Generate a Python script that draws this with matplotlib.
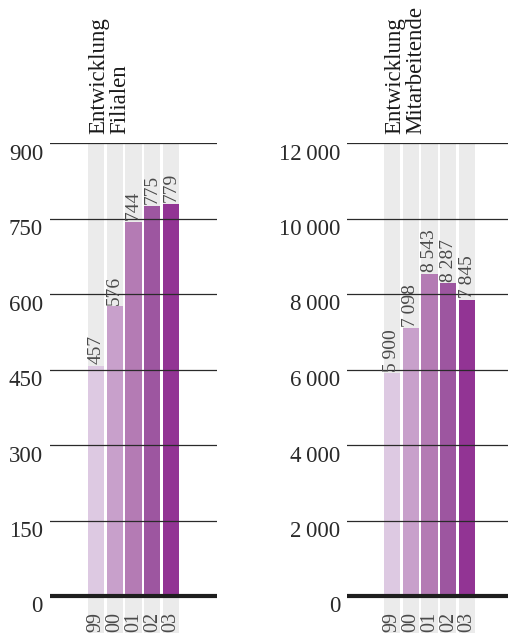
import matplotlib
matplotlib.use("Agg")
import matplotlib.pyplot as plt
from matplotlib.transforms import blended_transform_factory

plt.rcParams["font.family"] = ["Liberation Serif", "DejaVu Serif"]

years = ["99", "00", "01", "02", "03"]
filialen = [457, 576, 744, 775, 779]
mitarbeitende = [5900, 7098, 8543, 8287, 7845]
filialen_ticks = [0, 150, 300, 450, 600, 750, 900]
mitarbeitende_ticks = [0, 2000, 4000, 6000, 8000, 10000, 12000]

BAR_COLORS = ["#ddc9e2", "#c8a0cb", "#b47bb4", "#9d56a0", "#923494"]
BG = "#ebebeb"
INK = "#2a2a2a"

W, H = 508, 633
fig = plt.figure(figsize=(W / 100, H / 100), dpi=100)


def fmt(v):
    s = f"{v:,}"
    return s.replace(",", "\u2009")


def panel(x0, x1, ymax, vals, ticks, title, bar0_px):
    # axes runs from the bottom of the figure up to the top gridline (px 143)
    ax = fig.add_axes([x0 / W, 0, (x1 - x0) / W, (H - 143) / H])
    ppu = (596 - 143) / ymax
    ymin = -(H - 596) / ppu
    step = 18.75
    left = -(bar0_px - x0) / step
    ax.set_xlim(left, left + (x1 - x0) / step)
    ax.set_ylim(ymin, ymax)
    xs = range(len(vals))
    # grey column behind every bar, running down behind the year labels
    ax.bar(xs, [ymax - ymin] * len(vals), bottom=ymin, width=0.86, color=BG, zorder=0)
    ax.bar(xs, vals, width=0.86, color=BAR_COLORS, zorder=1)
    for t in ticks[1:]:
        ax.axhline(t, color=INK, lw=0.9, zorder=2)
    ax.axhline(0, color="#1e1e1e", lw=3.0, zorder=3)
    for x, v in zip(xs, vals):
        ax.text(x, v + 1.5 / ppu, fmt(v), rotation=90, ha="center", va="bottom",
                fontsize=14, color="#4a4a4a", zorder=4)
    for x, y in zip(xs, years):
        ax.text(x, -16 / ppu, y, rotation=90, ha="center", va="top",
                fontsize=14.5, color="#4a4a4a", zorder=4)
    tr = blended_transform_factory(fig.transFigure, ax.transData)
    for t in ticks:
        ax.text((x0 - 7) / W, t - 0.5 / ppu, fmt(t), transform=tr, ha="right", va="top",
                fontsize=16.5, color=INK)
    ax.text((bar0_px - 8) / W, (H - 134) / H, title, transform=fig.transFigure,
            rotation=90, ha="left", va="bottom", fontsize=16.5, color="#1a1a1a",
            linespacing=1.0, multialignment="left")
    ax.set_xticks([])
    ax.set_yticks([])
    for sp in ax.spines.values():
        sp.set_visible(False)
    ax.patch.set_alpha(0)
    return ax


panel(50, 217, 900, filialen, filialen_ticks, "Entwicklung\nFilialen", 96)
panel(347, 517, 12000, mitarbeitende, mitarbeitende_ticks, "Entwicklung\nMitarbeitende", 392)

fig.savefig("out.png", dpi=100)
